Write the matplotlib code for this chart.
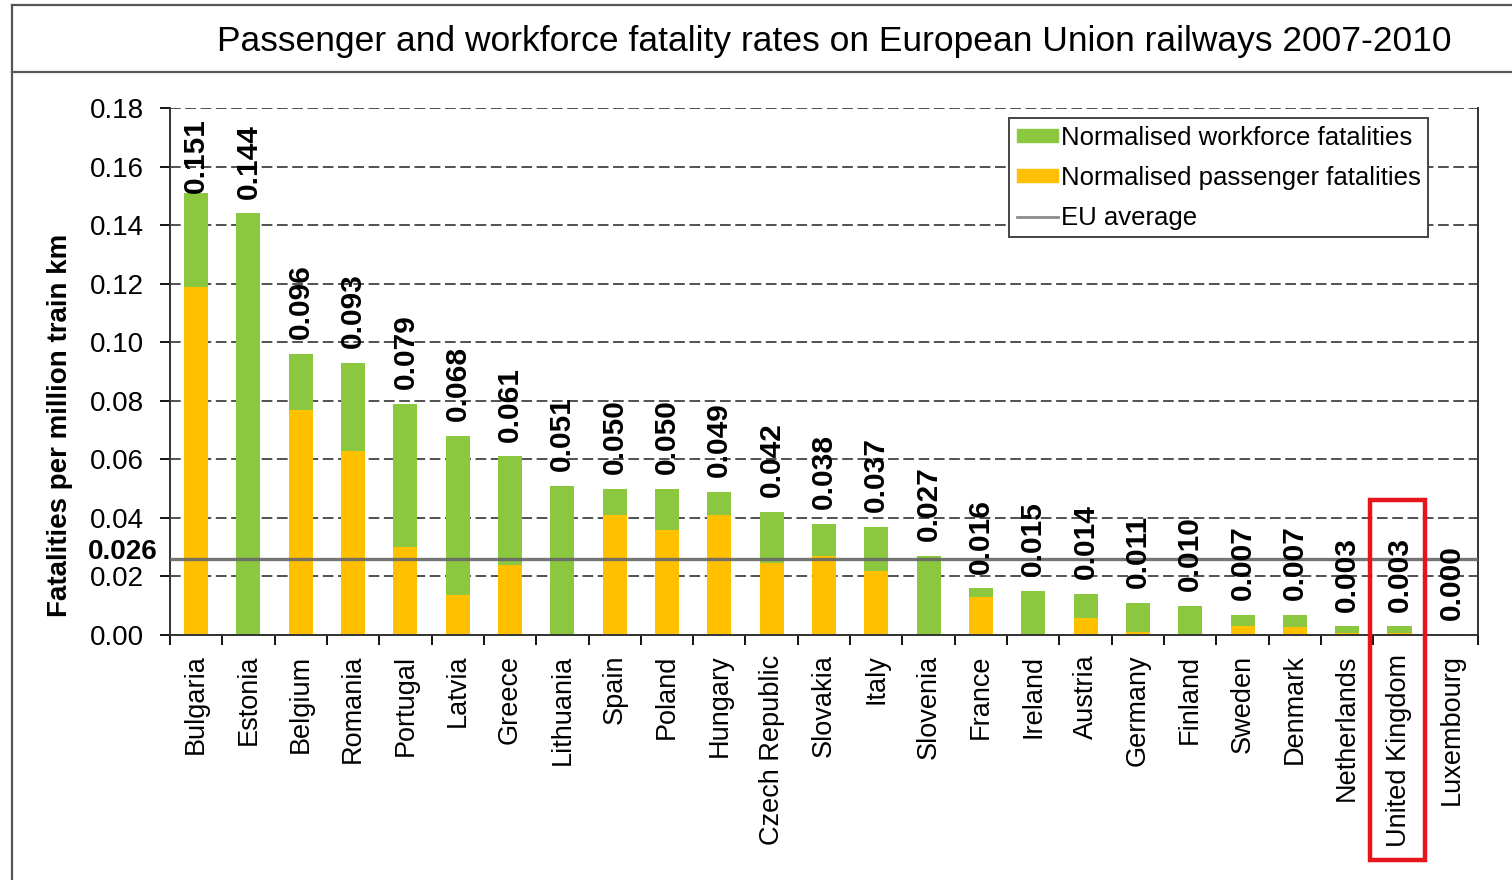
import matplotlib
matplotlib.use("Agg")
import matplotlib.pyplot as plt
from matplotlib.patches import Patch, Rectangle
from matplotlib.lines import Line2D

plt.rcParams['font.family'] = ['Liberation Sans', 'DejaVu Sans']

# fatality rates per million train km, 2007-2010
countries = ["Bulgaria", "Estonia", "Belgium", "Romania", "Portugal", "Latvia",
             "Greece", "Lithuania", "Spain", "Poland", "Hungary", "Czech Republic",
             "Slovakia", "Italy", "Slovenia", "France", "Ireland", "Austria",
             "Germany", "Finland", "Sweden", "Denmark", "Netherlands",
             "United Kingdom", "Luxembourg"]
totals = [0.151, 0.144, 0.096, 0.093, 0.079, 0.068, 0.061, 0.051, 0.050, 0.050,
          0.049, 0.042, 0.038, 0.037, 0.027, 0.016, 0.015, 0.014, 0.011, 0.010,
          0.007, 0.007, 0.003, 0.003, 0.000]
passenger = [0.119, 0.0, 0.077, 0.063, 0.030, 0.0135, 0.024, 0.0, 0.041, 0.036,
             0.041, 0.0245, 0.027, 0.022, 0.0, 0.013, 0.0, 0.0057, 0.001, 0.0,
             0.0032, 0.0029, 0.0006, 0.0008, 0.0]
workforce = [t - p for t, p in zip(totals, passenger)]
eu_average = 0.026
highlight = "United Kingdom"

green = "#8CC83F"
orange = "#FFC000"

fig = plt.figure(figsize=(15.12, 8.8), dpi=100)
ax = fig.add_axes([0.1124, 0.2784, 0.8651, 0.5989])

x = list(range(len(countries)))
ax.bar(x, passenger, width=0.46, color=orange, zorder=2)
ax.bar(x, workforce, width=0.46, bottom=passenger, color=green, zorder=2)
ax.axhline(eu_average, color="#666666", lw=2.4, alpha=0.9, zorder=3)

ax.set_xlim(-0.5, len(countries) - 0.5)
ax.set_ylim(0, 0.18)
ax.set_yticks([i * 0.02 for i in range(10)])
ax.set_yticklabels([f"{i * 0.02:.2f}" for i in range(10)], fontsize=20)
ax.yaxis.grid(True, linestyle=(0, (7, 3)), color="#222222", lw=1.1)
ax.set_axisbelow(True)

ax.set_xticks(x)
ax.set_xticklabels(countries, rotation=90, fontsize=19.5)
ax.set_xticks([i + 0.5 for i in range(-1, len(countries))], minor=True)
ax.tick_params(axis="x", which="major", length=0, pad=14)
ax.tick_params(axis="x", which="minor", length=7, width=1.3, direction="out")
ax.tick_params(axis="y", length=7, width=1.3, direction="out", pad=12)

for s in ["left", "bottom", "right"]:
    ax.spines[s].set_linewidth(1.4)
    ax.spines[s].set_color("#333333")
ax.spines["top"].set_visible(False)

ax.set_ylabel("Fatalities per million train km", fontsize=20, fontweight="bold")
ax.yaxis.set_label_coords(-0.074, 0.397)

# total value above each bar, kept inside the plot area
label_h = 0.0246
for i, t in enumerate(totals):
    y0 = min(t + 0.005, 0.1755 - label_h)
    ax.text(i, y0, f"{t:.3f}", rotation=90, ha="center", va="bottom",
            fontsize=21.5, fontweight="bold", zorder=4)

ax.annotate(f"{eu_average:.3f}", xy=(0, eu_average), xycoords=("axes fraction", "data"),
            xytext=(-9, 5), textcoords="offset points", ha="right", va="center",
            fontsize=20, fontweight="bold", annotation_clip=False)

handles = [Patch(color=green), Patch(color=orange),
           Line2D([], [], color="#8c8c8c", lw=2)]
leg = ax.legend(handles, ["Normalised workforce fatalities",
                          "Normalised passenger fatalities", "EU average"],
                loc="upper right", bbox_to_anchor=(0.962, 0.981), fontsize=18.5,
                fancybox=False, framealpha=1, edgecolor="#444444",
                handlelength=1.6, handleheight=0.45, handletextpad=0.1,
                labelspacing=0.62, borderpad=0.3, borderaxespad=0)
leg.get_frame().set_linewidth(1.4)

# red box round the highlighted country
hi = countries.index(highlight)
ax.add_patch(Rectangle((hi - 0.56, -0.0768), 1.05, 0.123, fill=False,
                       edgecolor="#e8141b", lw=3.2, clip_on=False, zorder=5))

fig.text(0.552, 0.953, "Passenger and workforce fatality rates on European Union railways 2007-2010",
         ha="center", va="center", fontsize=25.5)

# outer frame and title separator
for xs, ys in [([0.008, 1.0], [0.994, 0.994]), ([0.008, 0.008], [0.0, 0.994]),
               ([0.008, 1.0], [0.918, 0.918])]:
    fig.add_artist(Line2D(xs, ys, color="#555555", lw=1.6))

fig.savefig("out.png", dpi=100)
